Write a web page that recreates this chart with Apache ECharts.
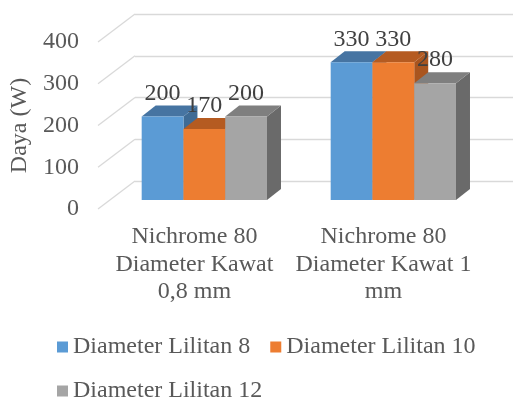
<!DOCTYPE html>
<html>
<head>
<meta charset="utf-8">
<script src="https://cdn.jsdelivr.net/npm/echarts@6/dist/echarts.min.js"></script>
<style>html,body{margin:0;padding:0;background:#fff}#c{width:513px;height:401px}</style>
</head>
<body>
<div id="c"></div>
<script>
const categories = ['Nichrome 80\nDiameter Kawat\n0,8 mm', 'Nichrome 80\nDiameter Kawat 1\nmm'];
const seriesNames = ['Diameter Lilitan 8', 'Diameter Lilitan 10', 'Diameter Lilitan 12'];
const lilitan8 = [200, 330];
const lilitan10 = [170, 330];
const lilitan12 = [200, 280];
const yTicks = [0, 100, 200, 300, 400];

const seriesValues = [lilitan8, lilitan10, lilitan12];
const faceColors = ['#5B9BD5', '#ED7D31', '#A5A5A5'];
const topColors = ['#4674A2', '#B55B21', '#7F7F7F'];
const sideColors = ['#3F6B95', '#A9551F', '#6A6A6A'];
const FONT = 'Liberation Serif';
const FS = 24;

// oblique depth geometry (pixels)
const DEPTH_X = 37, DEPTH_Y = 28;      // full floor depth
const FRONT_FRAC = 0.68;               // bar front face position from back wall
const BAR_DX = 14, BAR_DY = 11;        // bar depth
const BAR_FRAC = 0.221;                // bar width as fraction of category band

const chart = echarts.init(document.getElementById('c'), null, {renderer: 'canvas'});

function barRender(s) {
  return function (params, api) {
    const cat = api.value(0), val = api.value(1);
    const top = api.coord([cat, val]);
    const base = api.coord([cat, 0]);
    const band = api.size([1, 0])[0];
    const bw = band * BAR_FRAC;
    const sx = -DEPTH_X * FRONT_FRAC, sy = DEPTH_Y * FRONT_FRAC;
    const xl = top[0] - 1.5 * bw + s * bw + sx;
    const yt = top[1] + sy;
    const yb = base[1] + sy;
    return {
      type: 'group',
      children: [
        {type: 'polygon', shape: {points: [[xl + bw, yt], [xl + bw + BAR_DX, yt - BAR_DY], [xl + bw + BAR_DX, yb - BAR_DY], [xl + bw, yb]]}, style: {fill: sideColors[s]}},
        {type: 'polygon', shape: {points: [[xl, yt], [xl + bw, yt], [xl + bw + BAR_DX, yt - BAR_DY], [xl + BAR_DX, yt - BAR_DY]]}, style: {fill: topColors[s]}},
        {type: 'rect', shape: {x: xl, y: yt, width: bw, height: yb - yt}, style: {fill: faceColors[s]}},
        {type: 'text', z2: 100, style: {x: xl + bw / 2, y: yt - 23, text: String(val), fill: '#404040', font: FS + 'px "' + FONT + '"', align: 'center', verticalAlign: 'middle'}}
      ]
    };
  };
}

const series = [{
  type: 'custom',
  xAxisIndex: 0, yAxisIndex: 0,
  silent: true,
  data: yTicks.map(v => [0, v]),
  renderItem: function (params, api) {
    const p = api.coord([0, api.value(1)]);
    const x0 = params.coordSys.x;
    return {type: 'line', shape: {x1: x0 - DEPTH_X, y1: p[1] + DEPTH_Y, x2: x0, y2: p[1]}, style: {stroke: '#D9D9D9', lineWidth: 1.3}};
  }
}];
seriesNames.forEach((name, s) => {
  series.push({
    type: 'custom',
    name: name,
    xAxisIndex: 0, yAxisIndex: 0,
    itemStyle: {color: faceColors[s]},
    data: seriesValues[s].map((v, i) => [i, v]),
    renderItem: barRender(s)
  });
});

chart.setOption({
  animation: false,
  backgroundColor: '#fff',
  grid: [
    {left: 135, top: 14, height: 167, width: 380},
    {left: 98, top: 42, height: 167, width: 380}
  ],
  xAxis: [
    {type: 'category', gridIndex: 0, data: categories, axisLine: {show: false}, axisTick: {show: false}, axisLabel: {show: false}},
    {type: 'category', gridIndex: 1, data: categories, axisLine: {show: false}, axisTick: {show: false},
     axisLabel: {margin: 14, fontFamily: FONT, fontSize: FS, lineHeight: 27.5, color: '#595959', interval: 0}}
  ],
  yAxis: [
    {type: 'value', gridIndex: 0, min: 0, max: 400, interval: 100, axisLabel: {show: false}, axisLine: {show: false}, axisTick: {show: false},
     splitLine: {lineStyle: {color: '#D9D9D9', width: 1.3}}},
    {type: 'value', gridIndex: 1, min: 0, max: 400, interval: 100, splitLine: {show: false}, axisLine: {show: false}, axisTick: {show: false},
     axisLabel: {margin: 21, fontFamily: FONT, fontSize: FS, color: '#595959'},
     name: 'Daya (W)', nameLocation: 'middle', nameRotate: 90, nameGap: 64,
     nameTextStyle: {fontFamily: FONT, fontSize: FS, color: '#595959'}}
  ],
  legend: {
    left: 57, top: 335, width: 450, padding: 0, itemGap: 20, itemWidth: 11, itemHeight: 11, icon: 'rect',
    data: seriesNames,
    textStyle: {fontFamily: FONT, fontSize: FS, lineHeight: 23, color: '#595959'}
  },
  series: series
});
</script>
</body>
</html>
